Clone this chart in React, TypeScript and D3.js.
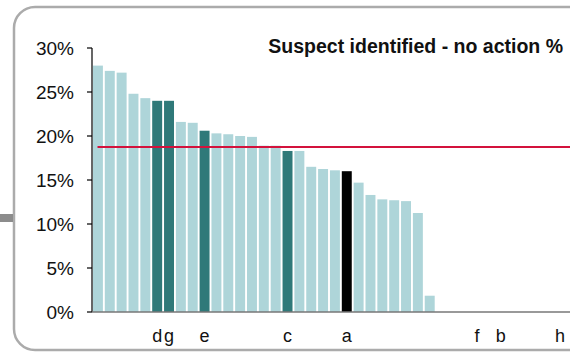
import React from "react";
import * as d3 from "d3";

const categories: string[] = [
  "", "", "", "", "", "d", "g", "", "", "e",
  "", "", "", "", "", "", "c", "", "", "",
  "", "a", "", "", "", "", "", "", "", "",
  "", "", "f", "", "b", "", "", "", "", "h",
];

const values: (number | null)[] = [
  28.0, 27.4, 27.2, 24.8, 24.3, 24.0, 24.0, 21.6, 21.5, 20.6,
  20.3, 20.2, 20.0, 19.9, 18.9, 18.9, 18.3, 18.3, 16.5, 16.25,
  16.1, 16.0, 14.7, 13.3, 12.8, 12.7, 12.6, 11.25, 1.85, null,
  null, null, null, null, null, null, null, null, null, null,
];

// 0 = normal, 1 = highlighted, 2 = selected
const highlight: number[] = [
  0, 0, 0, 0, 0, 1, 1, 0, 0, 1,
  0, 0, 0, 0, 0, 0, 1, 0, 0, 0,
  0, 2, 0, 0, 0, 0, 0, 0, 0, 0,
  0, 0, 0, 0, 0, 0, 0, 0, 0, 0,
];

const yTicks: number[] = [0, 5, 10, 15, 20, 25, 30];
const average = 18.75;
const title = "Suspect identified - no action %";

const W = 570;
const H = 352;
const FONT = "Arial, 'Liberation Sans', Helvetica, sans-serif";
const COLORS = ["#aed5d9", "#2f7979", "#000000"];

export default function App() {
  const x = d3
    .scaleBand<number>()
    .domain(categories.map((_, i) => i))
    .range([92, 566])
    .paddingInner(0.16)
    .paddingOuter(0.08);
  const y = d3.scaleLinear().domain([0, 30]).range([312, 48]);

  return (
    <svg
      width={W}
      height={H}
      style={{ position: "absolute", left: 0, top: 0, display: "block" }}
      fontFamily={FONT}
    >
      <rect x={0} y={0} width={W} height={H} fill="#ffffff" />
      {/* frame */}
      <rect
        x={14}
        y={7}
        width={620}
        height={343}
        rx={21}
        ry={21}
        fill="none"
        stroke="#ababab"
        strokeWidth={2.5}
      />
      <rect x={0} y={214} width={13} height={8} fill="#8c8c8c" />

      {/* bars */}
      {values.map((v, i) =>
        v == null ? null : (
          <rect
            key={i}
            x={x(i)}
            y={y(v)}
            width={x.bandwidth()}
            height={y(0) - y(v)}
            fill={COLORS[highlight[i]]}
          />
        )
      )}

      {/* average line */}
      <line
        x1={97.5}
        x2={W}
        y1={y(average)}
        y2={y(average)}
        stroke="#d3123c"
        strokeWidth={2}
      />

      {/* y axis */}
      <line x1={92} x2={92} y1={y(30)} y2={y(0)} stroke="#000" strokeWidth={1.2} />
      {yTicks.map((t) => (
        <g key={t}>
          <line x1={87} x2={92} y1={y(t)} y2={y(t)} stroke="#000" strokeWidth={1.2} />
          <text
            x={74}
            y={y(t)}
            dy="0.35em"
            textAnchor="end"
            fontSize={19}
            fill="#111"
          >
            {t}%
          </text>
        </g>
      ))}

      {/* x axis */}
      <line x1={92} x2={W} y1={y(0)} y2={y(0)} stroke="#777" strokeWidth={1.5} />
      {categories.map((c, i) =>
        c ? (
          <text
            key={i}
            x={(x(i) as number) + x.bandwidth() / 2}
            y={342}
            textAnchor="middle"
            fontSize={18}
            fill="#111"
          >
            {c}
          </text>
        ) : null
      )}

      {/* title */}
      <text x={563} y={53} textAnchor="end" fontSize={19.5} fontWeight="bold" fill="#111">
        {title}
      </text>
    </svg>
  );
}
